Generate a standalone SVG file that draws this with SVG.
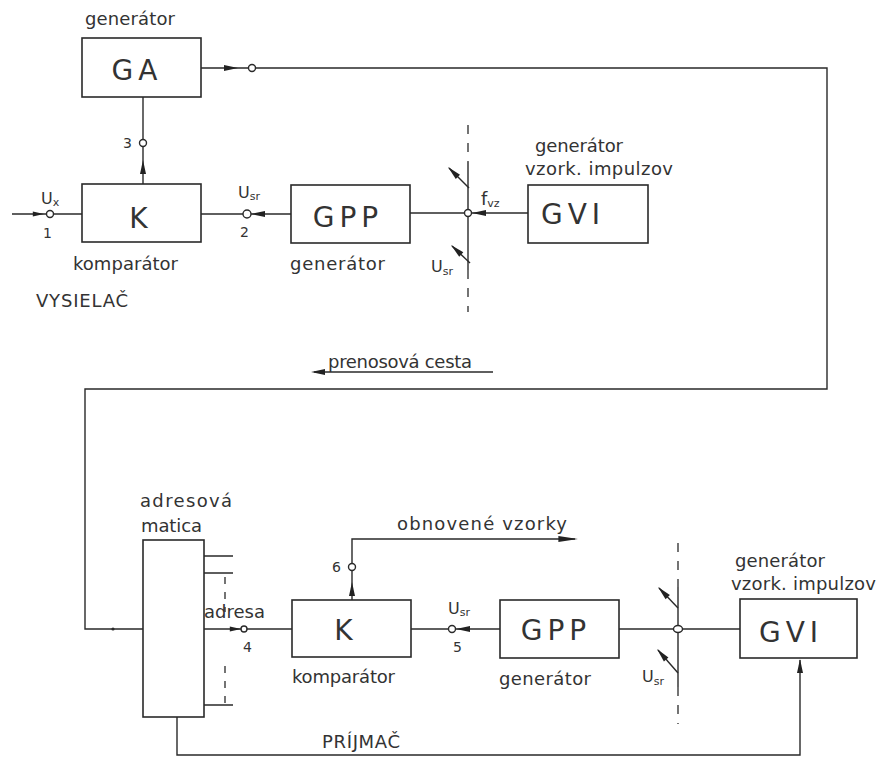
<svg xmlns="http://www.w3.org/2000/svg" xmlns:xlink="http://www.w3.org/1999/xlink" width="880" height="759" viewBox="0 0 880 759">
<style>
  .bx{fill:none;stroke:#2a2a2a;stroke-width:1.6}
  .ln{fill:none;stroke:#2a2a2a;stroke-width:1.4}
  .dash{fill:none;stroke:#2a2a2a;stroke-width:1.3;stroke-dasharray:9 9}
  .pt{fill:#fff;stroke:#2a2a2a;stroke-width:1.4}
  .t{font-family:"DejaVu Sans","Liberation Sans",sans-serif;font-size:18px;fill:#333}
  .big{font-family:"DejaVu Sans","Liberation Sans",sans-serif;font-size:28px;fill:#333;letter-spacing:5px}
  .sm{font-family:"DejaVu Sans","Liberation Sans",sans-serif;font-size:14px;fill:#333}
  .u{font-size:16px}
  .sub{font-size:11px}
</style>
<defs>
  <path id="ah" d="M0,0 L-14,-3 L-14,3 Z" fill="#222"/>
</defs>
<rect width="880" height="759" fill="#fff"/>

<g id="connectors">
  <!-- GA output loop to receiver -->
  <path class="ln" d="M201,68 H249 M255,68 H827 V389 H85 V629 H143"/>
  <use href="#ah" transform="translate(238,68)"/>
  <circle class="pt" cx="252" cy="68" r="3.5"/>
  <circle cx="113" cy="629" r="1.6" fill="#2a2a2a"/>
  <!-- K -> GA (3) -->
  <path class="ln" d="M143,184 V97"/>
  <use href="#ah" transform="translate(143,160) rotate(-90)"/>
  <circle class="pt" cx="143" cy="143" r="3.5"/>
  <!-- input 1 -->
  <path class="ln" d="M12,214 H82"/>
  <use href="#ah" transform="translate(44,214) scale(0.8)"/>
  <circle class="pt" cx="50" cy="214" r="3.5"/>
  <!-- GPP -> K (2) -->
  <path class="ln" d="M291,214 H201"/>
  <use href="#ah" transform="translate(251,214) rotate(180)"/>
  <circle class="pt" cx="247" cy="214" r="4"/>
  <!-- GVI -> GPP via junction -->
  <path class="ln" d="M528,213 H410"/>
  <use href="#ah" transform="translate(472,213) rotate(180)"/>
  <circle class="pt" cx="468" cy="213" r="3.5"/>
  <path class="dash" d="M468,125 V162 M468,270 V312"/>
  <path class="ln" d="M468,162 V209 M468,217 V270"/>
  <path class="ln" d="M469,188 L449,168"/>
  <use href="#ah" transform="translate(448,167) rotate(-135)"/>
  <path class="ln" d="M470,263 L452,246"/>
  <use href="#ah" transform="translate(451,245) rotate(-137)"/>
  <!-- prenosova cesta arrow -->
  <path class="ln" d="M493,372 H314"/>
  <use href="#ah" transform="translate(311,372) rotate(180)"/>

  <!-- adresova matica outputs -->
  <path class="ln" d="M204,556 H233 M204,573 H233 M204,705 H233"/>
  <path class="dash" d="M225,577 V612 M225,666 V703" style="stroke-dasharray:7 8"/>
  <!-- address line (4) -->
  <path class="ln" d="M204,629 H292"/>
  <use href="#ah" transform="translate(241,629) scale(0.8)"/>
  <circle class="pt" cx="244" cy="629" r="3"/>
  <!-- K -> obnovene vzorky (6) -->
  <path class="ln" d="M352,600 V539 H575"/>
  <use href="#ah" transform="translate(352,582) rotate(-90)"/>
  <circle class="pt" cx="352" cy="567" r="3.5"/>
  <use href="#ah" transform="translate(578,539) scale(1.4,1)"/>
  <!-- GPP -> K (5) -->
  <path class="ln" d="M500,629 H411"/>
  <use href="#ah" transform="translate(456,629) rotate(180)"/>
  <circle class="pt" cx="452" cy="629" r="3.5"/>
  <!-- GVI -> GPP via junction (receiver) -->
  <path class="ln" d="M740,629 H619"/>
  <ellipse class="pt" cx="678" cy="629" rx="4.5" ry="3.5"/>
  <path class="dash" d="M678,543 V587 M678,687 V724"/>
  <path class="ln" d="M678,587 V625 M678,633 V687"/>
  <path class="ln" d="M678,608 L659,588"/>
  <use href="#ah" transform="translate(658,587) rotate(-134)"/>
  <path class="ln" d="M678,673 L658,650"/>
  <use href="#ah" transform="translate(657,649) rotate(-131)"/>
  <!-- matica -> GVI feedback -->
  <path class="ln" d="M177,717 V755 H800 V660"/>
  <use href="#ah" transform="translate(800,659) rotate(-90)"/>
</g>

<g id="GA">
  <rect class="bx" x="82" y="38" width="119" height="59"/>
  <text class="big" x="137" y="80" text-anchor="middle">GA</text>
  <text class="t" x="85" y="25" textLength="90">generátor</text>
</g>
<g id="K-vysielac">
  <rect class="bx" x="82" y="184" width="119" height="58"/>
  <text class="big" x="141" y="228" text-anchor="middle">K</text>
  <text class="t" x="73" y="270" textLength="105">komparátor</text>
  <text class="t" x="36" y="307" textLength="92">VYSIELAČ</text>
  <text class="sm" x="123" y="148">3</text>
  <text class="sm" x="41" y="204"><tspan class="u">U</tspan><tspan class="sub" dy="2">x</tspan></text>
  <text class="sm" x="43" y="238">1</text>
  <text class="sm" x="238" y="198"><tspan class="u">U</tspan><tspan class="sub" dy="2">sr</tspan></text>
  <text class="sm" x="240" y="237">2</text>
</g>
<g id="GPP-vysielac">
  <rect class="bx" x="291" y="185" width="119" height="58"/>
  <text class="big" x="348" y="227" text-anchor="middle">GPP</text>
  <text class="t" x="290" y="270" textLength="95">generátor</text>
</g>
<g id="GVI-vysielac">
  <rect class="bx" x="528" y="185" width="120" height="58"/>
  <text class="big" x="573" y="224" text-anchor="middle">GVI</text>
  <text class="t" x="535" y="152" textLength="88">generátor</text>
  <text class="t" x="525" y="175" textLength="148">vzork. impulzov</text>
  <text class="t" x="481" y="205">f<tspan class="sub" dy="2">vz</tspan></text>
  <text class="sm" x="431" y="272"><tspan class="u">U</tspan><tspan class="sub" dy="3">sr</tspan></text>
</g>
<g id="prenos">
  <text class="t" x="328" y="368" textLength="144">prenosová cesta</text>
</g>
<g id="matica">
  <rect class="bx" x="143" y="540" width="61" height="177"/>
  <text class="t" x="140" y="507" textLength="92">adresová</text>
  <text class="t" x="141" y="532" textLength="61">matica</text>
  <text class="t" x="204" y="618" textLength="61">adresa</text>
  <text class="sm" x="243" y="652">4</text>
</g>
<g id="K-prijmac">
  <rect class="bx" x="292" y="600" width="119" height="57"/>
  <text class="big" x="346" y="640" text-anchor="middle">K</text>
  <text class="t" x="292" y="683" textLength="103">komparátor</text>
  <text class="sm" x="332" y="572">6</text>
  <text class="t" x="397" y="530" textLength="170">obnovené vzorky</text>
  <text class="sm" x="448" y="614"><tspan class="u">U</tspan><tspan class="sub" dy="2">sr</tspan></text>
  <text class="sm" x="453" y="652">5</text>
</g>
<g id="GPP-prijmac">
  <rect class="bx" x="500" y="600" width="119" height="58"/>
  <text class="big" x="556" y="640" text-anchor="middle">GPP</text>
  <text class="t" x="499" y="685" textLength="92">generátor</text>
  <text class="sm" x="642" y="682"><tspan class="u">U</tspan><tspan class="sub" dy="3">sr</tspan></text>
</g>
<g id="GVI-prijmac">
  <rect class="bx" x="740" y="599" width="117" height="59"/>
  <text class="big" x="791" y="642" text-anchor="middle">GVI</text>
  <text class="t" x="735" y="567" textLength="90">generátor</text>
  <text class="t" x="731" y="590" textLength="145">vzork. impulzov</text>
</g>
<g id="prijmac">
  <text class="t" x="322" y="748" textLength="78">PRÍJMAČ</text>
</g>
</svg>
